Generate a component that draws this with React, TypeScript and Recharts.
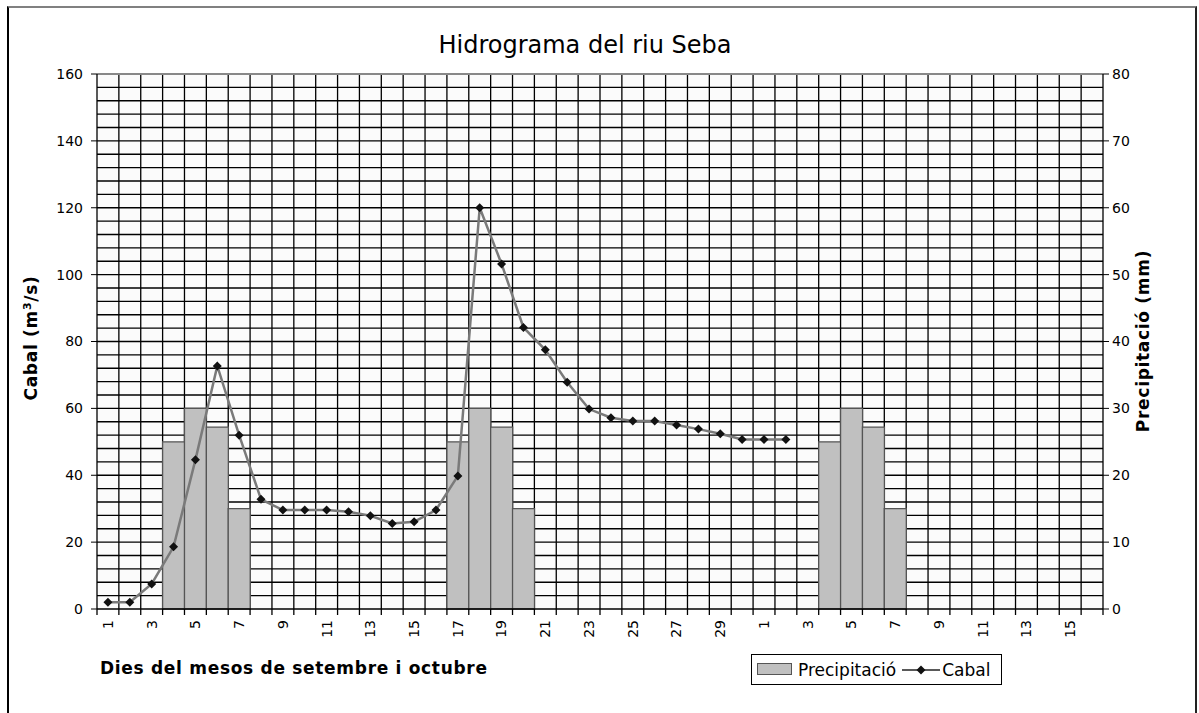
import React from 'react';
import { ComposedChart, Bar, Line, XAxis, YAxis, CartesianGrid, ReferenceLine } from 'recharts';

// dies de setembre (1-30) i octubre (1-16)
const dies = [
  '1', '2', '3', '4', '5', '6', '7', '8', '9', '10',
  '11', '12', '13', '14', '15', '16', '17', '18', '19', '20',
  '21', '22', '23', '24', '25', '26', '27', '28', '29', '30',
  '1', '2', '3', '4', '5', '6', '7', '8', '9', '10',
  '11', '12', '13', '14', '15', '16',
];

// cabal en m3/s (eix esquerre)
const cabal = [
  2, 2, 7.5, 18.6, 44.6, 72.7, 52, 32.8, 29.6, 29.6,
  29.6, 29.1, 27.9, 25.6, 26.1, 29.6, 39.8, 120, 103.2, 84.2,
  77.5, 67.8, 59.8, 57.2, 56.2, 56.2, 55, 53.8, 52.4, 50.7,
  50.7, 50.7, null, null, null, null, null, null, null, null,
  null, null, null, null, null, null,
];

// precipitació en mm (eix dret)
const precipitacio = [
  null, null, null, 25, 30, 27.2, 15, null, null, null,
  null, null, null, null, null, null, 25, 30, 27.2, 15,
  null, null, null, null, null, null, null, null, null, null,
  null, null, null, 25, 30, 27.2, 15, null, null, null,
  null, null, null, null, null, null,
];

const cabalTicks = [0, 20, 40, 60, 80, 100, 120, 140, 160];
const precTicks = [0, 10, 20, 30, 40, 50, 60, 70, 80];

const data = dies.map((dia, i) => ({ dia, cabal: cabal[i], precipitacio: precipitacio[i] }));

const FONT = "'DejaVu Sans', sans-serif";

const DiaTick = (props: any) => {
  const { x, y, payload, index } = props;
  const half = payload.offset || 0;
  const axisY = y - 8;
  return (
    <g>
      <line x1={x - half} x2={x - half} y1={axisY} y2={axisY + 6} stroke="#000" strokeWidth={1.3} />
      {index === dies.length - 1 && (
        <line x1={x + half} x2={x + half} y1={axisY} y2={axisY + 6} stroke="#000" strokeWidth={1.3} />
      )}
      {index % 2 === 0 && (
        <text
          x={x - 3}
          y={y}
          transform={`rotate(-90, ${x}, ${y})`}
          textAnchor="end"
          dy="0.35em"
          fontSize={14}
          fontFamily={FONT}
          fill="#000"
        >
          {payload.value}
        </text>
      )}
    </g>
  );
};

const Rombe = (props: any) => {
  const { cx, cy, index } = props;
  if (cx == null || cy == null) return <g key={`r-${index}`} />;
  const r = 4.5;
  return (
    <polygon
      key={`r-${index}`}
      points={`${cx},${cy - r} ${cx + r},${cy} ${cx},${cy + r} ${cx - r},${cy}`}
      fill="#111"
    />
  );
};

const App = () => {
  return (
    <div style={{ position: 'absolute', left: 0, top: 0, width: 1199, height: 713, overflow: 'hidden', background: '#fff', fontFamily: FONT }}>
      <div style={{
        position: 'absolute', left: 7, top: 6, width: 1186, height: 730,
        borderLeft: '2px solid #000', borderTop: '2px solid #808080', borderRight: '2px solid #222',
      }} />

      <div style={{ position: 'absolute', left: 0, top: 0 }}>
        <ComposedChart
          width={1199}
          height={713}
          data={data}
          margin={{ top: 74, right: 36, bottom: 64, left: 37 }}
          barCategoryGap={0}
          barGap={0}
        >
          <CartesianGrid
            stroke="#000"
            strokeWidth={1.3}
            fill="#fbfbfb"
            verticalCoordinatesGenerator={({ offset }: any) =>
              dies.slice(1).map((_, i) => offset.left + ((i + 1) * offset.width) / dies.length)}
            horizontalCoordinatesGenerator={({ offset }: any) =>
              Array.from({ length: 39 }, (_, i) => offset.top + ((i + 1) * offset.height) / 40)}
          />
          <XAxis
            dataKey="dia"
            interval={0}
            height={40}
            tickLine={false}
            axisLine={{ stroke: '#000', strokeWidth: 1.3 }}
            tick={<DiaTick />}
          />
          <YAxis
            yAxisId="cabal"
            domain={[0, 160]}
            ticks={cabalTicks}
            width={60}
            tickMargin={8}
            axisLine={{ stroke: '#000', strokeWidth: 1.3 }}
            tickLine={{ stroke: '#000' }}
            tick={{ fontSize: 14, fill: '#000', fontFamily: FONT }}
          />
          <YAxis
            yAxisId="prec"
            orientation="right"
            domain={[0, 80]}
            ticks={precTicks}
            width={60}
            tickMargin={3}
            axisLine={{ stroke: '#000', strokeWidth: 1.3 }}
            tickLine={{ stroke: '#000' }}
            tick={{ fontSize: 14, fill: '#000', fontFamily: FONT }}
          />
          <ReferenceLine yAxisId="cabal" y={160} stroke="#888" strokeWidth={2} />
          <Bar
            yAxisId="prec"
            dataKey="precipitacio"
            fill="#c0c0c0"
            stroke="#555"
            strokeWidth={1.3}
            isAnimationActive={false}
          />
          <Line
            yAxisId="cabal"
            dataKey="cabal"
            type="linear"
            stroke="#7a7a7a"
            strokeWidth={2.5}
            dot={Rombe}
            activeDot={false}
            connectNulls={false}
            isAnimationActive={false}
          />
        </ComposedChart>
      </div>

      <div style={{ position: 'absolute', left: 0, top: 31, width: 1170, textAlign: 'center', fontSize: 24, color: '#000' }}>
        Hidrograma del riu Seba
      </div>

      <div style={{
        position: 'absolute', left: 31, top: 338, transform: 'translate(-50%, -50%) rotate(-90deg)',
        whiteSpace: 'nowrap', fontSize: 17, fontWeight: 'bold', letterSpacing: 0.7, color: '#000',
      }}>
        Cabal (m<sup style={{ fontSize: 11 }}>3</sup>/s)
      </div>

      <div style={{
        position: 'absolute', left: 1143, top: 341, transform: 'translate(-50%, -50%) rotate(-90deg)',
        whiteSpace: 'nowrap', fontSize: 17, fontWeight: 'bold', letterSpacing: 0.7, color: '#000',
      }}>
        Precipitació (mm)
      </div>

      <div style={{
        position: 'absolute', left: 100, top: 658, whiteSpace: 'nowrap',
        fontSize: 17, fontWeight: 'bold', letterSpacing: 0.7, color: '#000',
      }}>
        Dies del mesos de setembre i octubre
      </div>

      <div style={{
        position: 'absolute', left: 751, top: 654, width: 249, height: 29,
        border: '1px solid #000', background: '#fff', display: 'flex', alignItems: 'center',
        fontSize: 17, color: '#000', whiteSpace: 'nowrap',
      }}>
        <svg width={36} height={13} style={{ marginLeft: 5 }}>
          <rect x={0.5} y={0.5} width={34} height={11} fill="#c0c0c0" stroke="#555" />
        </svg>
        <span style={{ marginLeft: 5 }}>Precipitació</span>
        <svg width={38} height={12} style={{ marginLeft: 6 }}>
          <line x1={0} x2={38} y1={6} y2={6} stroke="#222" strokeWidth={1.5} />
          <polygon points="19,1.5 23.5,6 19,10.5 14.5,6" fill="#111" />
        </svg>
        <span style={{ marginLeft: 2 }}>Cabal</span>
      </div>
    </div>
  );
};

export default App;
